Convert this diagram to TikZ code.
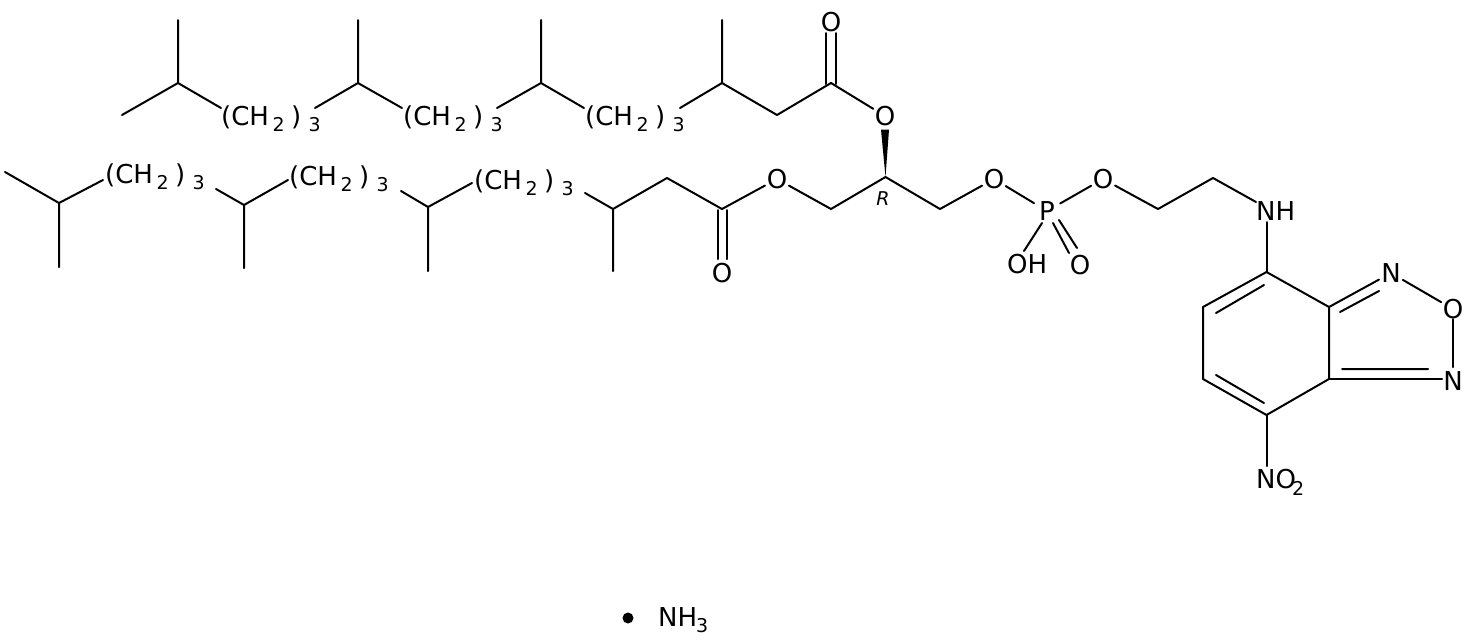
\documentclass[tikz,border=0pt]{standalone}
\usepackage{fontspec}
\setmainfont{DejaVu Sans}
\newcommand\subsz{\fontsize{19}{19}\selectfont}
\newcommand\chainlabel{\rlap{(CH}\hspace{51.5pt}\rlap{\raisebox{-6pt}{\subsz 2}}\hspace{18.5pt}\rlap{)}\hspace{17.5pt}\raisebox{-6pt}{\subsz 3}}
\tikzset{
  bond/.style={line width=2pt,line cap=round,line join=round},
  atomlabel/.style={circle,minimum size=27pt,inner sep=-3pt,font=\fontsize{26}{26}\selectfont},
  textlabel/.style={anchor=base west,inner sep=0pt,font=\fontsize{26}{26}\selectfont},
  stereo/.style={inner sep=0pt,font=\fontsize{19}{19}\selectfont\itshape},
}
\begin{document}
\begin{tikzpicture}[x=1pt,y=-1pt]
\useasboundingbox (0,0) rectangle (1481,641);
\foreach \n/\x/\y in {a1/122/115,a2/178/83,a3/178/20,a4/221/108,a5/315/108,a6/358/83,a7/358/20,a8/402/108,a9/497/108,a10/541/83,a11/541/20,a12/584/108,a13/680/108,a14/722/83,a15/722/20,a16/777/115,a17/831/83,
 b1/5/172,b2/59/203,b3/59/267,b4/103/180,b5/216/189,b6/244/205,b7/244/268,b8/288/180,b9/401/191,b10/428/207,b11/428/271,b12/472/183,b13/585/193,b14/613/209,b15/613/271,b16/667/178,b17/722/209,
 c1/831/209,c2/885.5/177,c3/940/209,c4/1158/209,c5/1213/178,
 r1/1266.5/272,r2/1203/307,r3/1203/379,r4/1266.5/415,r5/1329/379,r6/1329/307}
  \coordinate (\n) at (\x,\y);
\node[textlabel] (ch1) at (221,125) {\chainlabel};
\node[textlabel] (ch2) at (403,125) {\chainlabel};
\node[textlabel] (ch3) at (585,125) {\chainlabel};
\node[textlabel] (ch4) at (105,183) {\chainlabel};
\node[textlabel] (ch5) at (289,185) {\chainlabel};
\node[textlabel] (ch6) at (474,189) {\chainlabel};
\node[atomlabel] (o1) at (831,22) {O};
\node[atomlabel] (o2) at (885,116) {O};
\node[atomlabel] (o3) at (777,179) {O};
\node[atomlabel] (o4) at (722,273) {O};
\node[atomlabel] (o5) at (994,179) {O};
\node[atomlabel] (o6) at (1103,179) {O};
\node[atomlabel] (o7) at (1080,265) {O};
\node[atomlabel,minimum size=30pt] (p) at (1047,211) {P};
\node[textlabel] (oh) at (1007,273) {OH};
\coordinate (ohb) at (1024,251);
\coordinate (pb) at (1042,223);
\coordinate (p1) at (1053,223);\coordinate (p2) at (1069,253);
\coordinate (p3) at (1059,220);\coordinate (p4) at (1077,248);
\node[textlabel] (nh) at (1256,220) {NH};
\coordinate (nhl) at (1256,202);
\coordinate (nhb) at (1266.5,222);
\node[atomlabel] (n1) at (1391,273) {N};
\node[atomlabel] (ox) at (1453,309) {O};
\node[atomlabel] (n2) at (1453,381) {N};
\coordinate (n2l) at (1442,379);
\coordinate (n2t) at (1453,367);
\coordinate (oxb) at (1453,319);
\node[textlabel] (no) at (1256,488) {\rlap{NO}\hspace{36pt}\raisebox{-7pt}{\subsz 2}};
\coordinate (not) at (1266.5,466);
\node[stereo] (rr) at (883,199) {R};
\node[circle,fill=black,minimum size=11pt,inner sep=0pt] (dot) at (628,618) {};
\node[textlabel] (nh3) at (658,626) {\rlap{NH}\hspace{38pt}\raisebox{-6pt}{\subsz 3}};
% bonds
\draw[bond] (a1)--(a2)--(a3) (a2)--(a4);
\draw[bond] (a5)--(a6)--(a7) (a6)--(a8);
\draw[bond] (a9)--(a10)--(a11) (a10)--(a12);
\draw[bond] (a13)--(a14)--(a15) (a14)--(a16)--(a17);
\draw[bond] (a17)--(o2);
\coordinate (d1) at (826,84);\coordinate (d2) at (826,33);
\coordinate (d3) at (836,84);\coordinate (d4) at (836,33);
\draw[bond] (d1)--(d2) (d3)--(d4);
\draw[bond] (b1)--(b2)--(b3) (b2)--(b4);
\draw[bond] (b5)--(b6)--(b7) (b6)--(b8);
\draw[bond] (b9)--(b10)--(b11) (b10)--(b12);
\draw[bond] (b13)--(b14)--(b15) (b14)--(b16)--(b17);
\draw[bond] (b17)--(o3)--(c1)--(c2)--(c3)--(o5);
\coordinate (e1) at (717.5,210);\coordinate (e2) at (717.5,259);
\coordinate (e3) at (726.5,210);\coordinate (e4) at (726.5,259);
\draw[bond] (e1)--(e2) (e3)--(e4);
\fill (c2)--([xshift=-4pt]o2.south)--([xshift=4pt]o2.south)--cycle;
\draw[bond] (o5)--(p)--(o6)--(c4)--(c5)--(nhl);
\draw[bond] (pb)--(ohb) (p1)--(p2) (p3)--(p4);
\draw[bond] (nhb)--(r1);
\draw[bond] (r1)--(r2)--(r3)--(r4)--(r5)--(r6)--cycle;
\draw[bond] (r4)--(not);
\draw[bond] (r6)--(n1)--(ox);
\draw[bond] (oxb)--(n2t) (n2l)--(r5);
\coordinate (i1) at (1216,313);\coordinate (i2) at (1264,285);
\coordinate (i3) at (1216,375);\coordinate (i4) at (1264,403);
\coordinate (i5) at (1340,312);\coordinate (i6) at (1379,291);
\coordinate (i7) at (1342,369);\coordinate (i8) at (1428,369);
\draw[bond] (i1)--(i2) (i3)--(i4) (i5)--(i6) (i7)--(i8);
\end{tikzpicture}
\end{document}
